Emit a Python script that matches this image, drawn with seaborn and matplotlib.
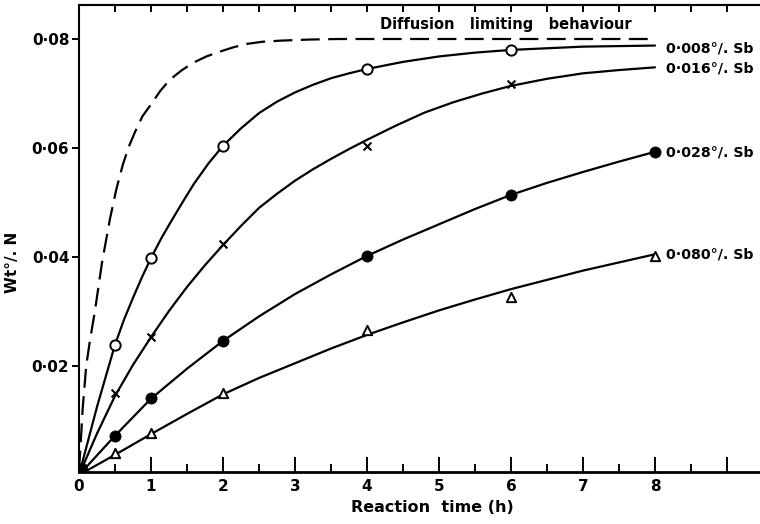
import matplotlib
matplotlib.use("Agg")
import matplotlib.pyplot as plt
import seaborn as sns
import numpy as np

# ---------------- data ----------------
# measured points
pts_x_008 = [0.5, 1, 2, 4, 6]
pts_y_008 = [0.0239, 0.0398, 0.0604, 0.0745, 0.0780]
pts_x_016 = [0.5, 1, 2, 4, 6]
pts_y_016 = [0.0150, 0.0253, 0.0424, 0.0604, 0.0717]
pts_x_028 = [0.5, 1, 2, 4, 6, 8]
pts_y_028 = [0.0072, 0.0141, 0.0246, 0.0402, 0.0514, 0.0593]
pts_x_080 = [0.5, 1, 2, 4, 6, 8]
pts_y_080 = [0.0040, 0.0077, 0.0150, 0.0266, 0.0327, 0.0402]
pts_x_origin = [0.04]
pts_y_origin = [0.0013]

# fitted curves
crv_x_008 = [0, 0.25, 0.5, 0.625, 0.75, 0.875, 1.0, 1.15, 1.3, 1.45, 1.6, 1.8, 2.0,
             2.25, 2.5, 2.75, 3.0, 3.25, 3.5, 3.75, 4.0, 4.5, 5.0, 5.5, 6.0, 6.5,
             7.0, 7.5, 8.0]
crv_y_008 = [0, 0.0125, 0.0239, 0.0285, 0.0325, 0.0363, 0.0398, 0.0436, 0.0470,
             0.0503, 0.0535, 0.0572, 0.0604, 0.0636, 0.0664, 0.0685, 0.0702,
             0.0716, 0.0728, 0.0737, 0.0745, 0.0758, 0.0768, 0.0775, 0.0780,
             0.0783, 0.0786, 0.0787, 0.0788]
crv_x_016 = [0, 0.25, 0.5, 0.75, 1.0, 1.25, 1.5, 1.75, 2.0, 2.25, 2.5, 2.75, 3.0,
             3.25, 3.5, 3.75, 4.0, 4.4, 4.8, 5.2, 5.6, 6.0, 6.5, 7.0, 7.5, 8.0]
crv_y_016 = [0, 0.0076, 0.0145, 0.0202, 0.0253, 0.0301, 0.0345, 0.0385, 0.0422,
             0.0457, 0.0490, 0.0516, 0.0540, 0.0561, 0.0580, 0.0598, 0.0615,
             0.0641, 0.0665, 0.0684, 0.0700, 0.0714, 0.0727, 0.0737, 0.0743,
             0.0748]
crv_x_028 = [0, 0.5, 1, 1.5, 2, 2.5, 3, 3.5, 4, 4.5, 5, 5.5, 6, 6.5, 7, 7.5, 8]
crv_y_028 = [0, 0.0072, 0.0140, 0.0195, 0.0246, 0.0291, 0.0332, 0.0368, 0.0402,
             0.0432, 0.0460, 0.0488, 0.0514, 0.0536, 0.0556, 0.0575, 0.0593]
crv_x_080 = [0, 0.5, 1, 1.5, 2, 2.5, 3, 3.5, 4, 4.5, 5, 5.5, 6, 6.5, 7, 7.5, 8]
crv_y_080 = [0, 0.0037, 0.0075, 0.0112, 0.0148, 0.0178, 0.0205, 0.0232, 0.0257,
             0.0280, 0.0302, 0.0322, 0.0341, 0.0358, 0.0375, 0.0390, 0.0405]
crv_x_diff = [0, 0.02, 0.05, 0.1, 0.15, 0.22, 0.32, 0.43, 0.52, 0.61, 0.7, 0.78,
              0.88, 1.0, 1.13, 1.26, 1.42, 1.58, 1.77, 1.96, 2.15, 2.33, 2.55,
              2.8, 3.2, 3.6, 8.0]
crv_y_diff = [0.001, 0.005, 0.012, 0.020, 0.0245, 0.030, 0.039, 0.047, 0.0525,
              0.057, 0.0605, 0.063, 0.0658, 0.068, 0.0705, 0.0725, 0.0742,
              0.0756, 0.0768, 0.0777, 0.0785, 0.0791, 0.0795, 0.0797, 0.0799,
              0.0800, 0.0800]

series_labels = ["0·008°/. Sb", "0·016°/. Sb", "0·028°/. Sb", "0·080°/. Sb"]
label_y = [0.0783, 0.0745, 0.0591, 0.0404]
diff_label = "Diffusion   limiting   behaviour"
x_ticks = [0, 1, 2, 3, 4, 5, 6, 7, 8, 9]
x_tick_labels = ["0", "1", "2", "3", "4", "5", "6", "7", "8", ""]
y_ticks = [0.02, 0.04, 0.06, 0.08]
y_tick_labels = ["0·02", "0·04", "0·06", "0·08"]
x_label = "Reaction  time (h)"
y_label = "Wt°/. N"

# ---------------- style ----------------
sns.set_style("ticks")
plt.rcParams["font.family"] = ["DejaVu Sans"]
plt.rcParams["axes.linewidth"] = 1.5
for k in ["text.color", "axes.labelcolor", "xtick.color", "ytick.color", "axes.edgecolor"]:
    plt.rcParams[k] = "black"

fig = plt.figure(figsize=(7.6, 5.24), dpi=100)
ax = fig.add_axes([79 / 760, 52.3 / 524, 720 / 760, 466.7 / 524])

lw = 1.6
for cx, cy in [(crv_x_008, crv_y_008), (crv_x_016, crv_y_016),
               (crv_x_028, crv_y_028), (crv_x_080, crv_y_080)]:
    sns.lineplot(x=cx, y=cy, ax=ax, color="black", linewidth=lw,
                 estimator=None, sort=False)
sns.lineplot(x=crv_x_diff, y=crv_y_diff, ax=ax, color="black", linewidth=lw,
             estimator=None, sort=False, linestyle=(0, (8.5, 3.8)))

sns.scatterplot(x=pts_x_008, y=pts_y_008, ax=ax, marker="o", s=55,
                facecolor="white", edgecolor="black", linewidth=1.4, zorder=4)
sns.scatterplot(x=pts_x_016, y=pts_y_016, ax=ax, marker="x", s=32,
                color="black", linewidth=1.5, zorder=4)
sns.scatterplot(x=pts_x_028, y=pts_y_028, ax=ax, marker="o", s=65,
                color="black", edgecolor="black", linewidth=0.5, zorder=4)
sns.scatterplot(x=pts_x_080, y=pts_y_080, ax=ax, marker="^", s=45,
                facecolor="white", edgecolor="black", linewidth=1.4, zorder=4)
sns.scatterplot(x=pts_x_origin, y=pts_y_origin, ax=ax, marker="o", s=55,
                color="black", edgecolor="black", linewidth=0.5, zorder=4)

ax.set_xlim(0, 10)
ax.set_ylim(0.0006, 0.08624)

ax.set_xticks(x_ticks)
ax.set_xticklabels(x_tick_labels, fontsize=11, fontweight="bold")
ax.set_xticks(np.arange(0.5, 10, 1.0), minor=True)
ax.tick_params(axis="x", which="major", direction="in", length=11, width=1.4, pad=5)
ax.tick_params(axis="x", which="minor", direction="in", length=5.5, width=1.4)
ax.set_yticks(y_ticks)
ax.set_yticklabels(y_tick_labels, fontsize=11, fontweight="bold")
ax.tick_params(axis="y", which="major", direction="out", length=5, width=1.4, pad=2)

top = ax.secondary_xaxis("top")
top.set_xticks(np.arange(0.5, 10, 0.5))
top.set_xticklabels([])
top.tick_params(direction="in", length=5, width=1.4)

for s in ax.spines.values():
    s.set_color("black")
ax.spines["bottom"].set_linewidth(2.0)

ax.set_xlabel("")
ax.set_ylabel("")
fig.text(432 / 760, 1 - 508 / 524, x_label, ha="center", va="center",
         fontsize=11.5, fontweight="bold")
fig.text(12 / 760, 1 - 262 / 524, y_label, ha="center", va="center",
         rotation=90, fontsize=11, fontweight="bold")

ax.text(4.18, 0.0826, diff_label, ha="left", va="center", fontsize=10.5,
        fontweight="bold")
for lab, yy in zip(series_labels, label_y):
    ax.text(8.15, yy, lab, ha="left", va="center", fontsize=10.2, fontweight="bold")

fig.savefig("out.png", dpi=100)
